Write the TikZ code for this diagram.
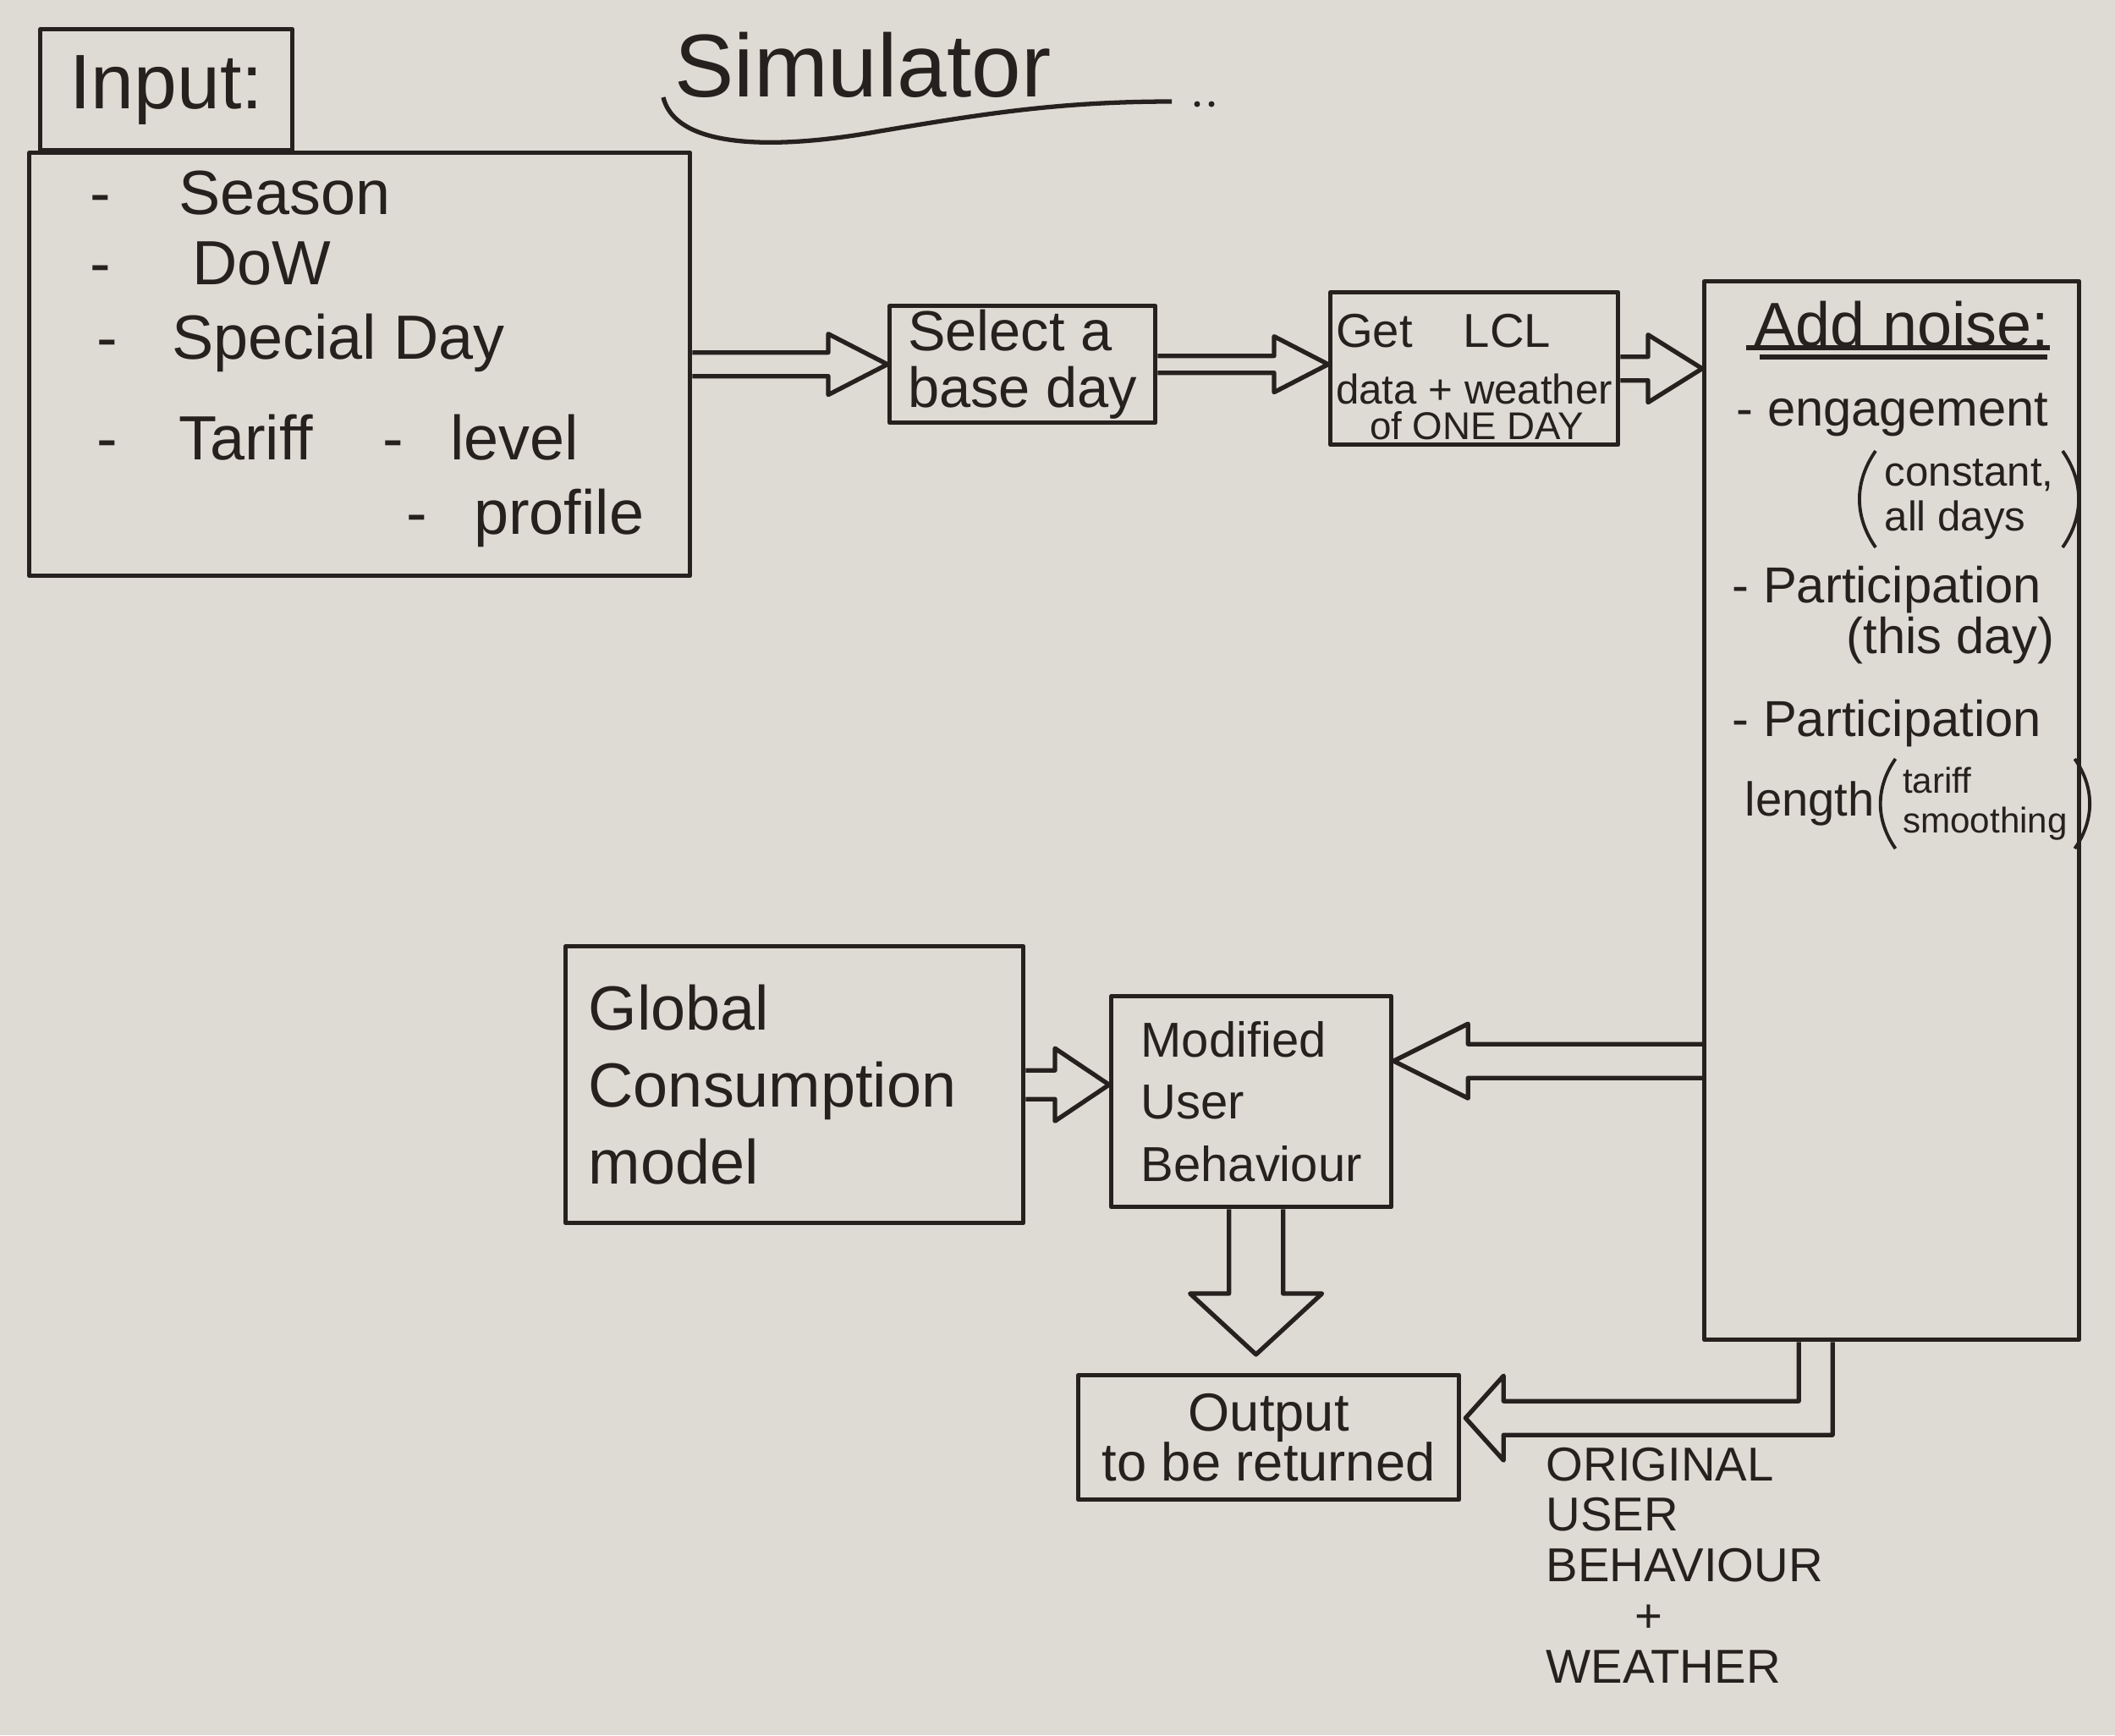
\documentclass[tikz,border=0pt]{standalone}
\usepackage{fontspec}
\setmainfont{Liberation Sans}
\usetikzlibrary{calc,positioning}
\definecolor{paper}{RGB}{221,219,211}
\definecolor{ink}{RGB}{38,33,30}

\begin{document}
\begin{tikzpicture}[color=ink, line width=1.5pt, line join=round,
    box/.style={draw, rectangle, inner sep=0pt, anchor=north west},
    item/.style={inner sep=0pt, anchor=west, text height=1.5ex, text depth=0.25ex,
        font=\fontsize{21}{25}\selectfont},
    note/.style={inner sep=0pt, font=\fontsize{17}{20}\selectfont},
    paren/.style={line width=1.1pt},
    fat/.style n args={3}{to path={
        ($(\tikztostart)!#1!90:(\tikztotarget)$)
        -- ($($(\tikztotarget)!#3!(\tikztostart)$)!#1!90:(\tikztotarget)$)
        -- ($($(\tikztotarget)!#3!(\tikztostart)$)!#2!90:(\tikztotarget)$)
        -- (\tikztotarget)
        -- ($($(\tikztotarget)!#3!(\tikztostart)$)!#2!270:(\tikztotarget)$)
        -- ($($(\tikztotarget)!#3!(\tikztostart)$)!#1!270:(\tikztotarget)$)
        -- ($(\tikztostart)!#1!270:(\tikztotarget)$)}}]

\fill[paper] (0,0) rectangle (25,-20.51);
\useasboundingbox (0,0) rectangle (25,-20.51);

% title
\node [font=\fontsize{30}{34}\selectfont] (title) at (10.2,-0.77) {Simulator};
\draw (7.84,-1.15) .. controls (8.0,-1.8) and (9.3,-1.75) .. (10.4,-1.55)
    .. controls (11.6,-1.35) and (12.5,-1.2) .. (13.85,-1.2);
\fill (14.15,-1.23) circle (0.035);
\fill (14.32,-1.23) circle (0.035);

% input
\node [box, minimum width=2.98cm, minimum height=1.43cm,
    font=\fontsize{26}{30}\selectfont] (intab) at (0.45,-0.32) {Input:};
\node [box, minimum width=7.81cm, minimum height=5.0cm] (inbox) at (0.32,-1.78) {};
\node [item] (season) at (1.04,-2.42) {-\hspace{0.8cm}Season};
\node [item] (dow) at (1.04,-3.25) {-\hspace{0.96cm}DoW};
\node [item] (spday) at (1.12,-4.13) {-\hspace{0.64cm}Special Day};
\node [item] (tariff) at (1.12,-5.32) {-\hspace{0.72cm}Tariff\hspace{0.83cm}-\hspace{0.55cm}level};
\node [item] (profile) at (4.78,-6.2) {-\hspace{0.55cm}profile};

% chain
\node [box, minimum width=3.14cm, minimum height=1.38cm, align=left,
    font=\fontsize{19}{19}\selectfont] (sel) at (10.49,-3.59) {Select a\\base day};
\node [box, minimum width=3.4cm, minimum height=1.8cm, align=left,
    font=\fontsize{14}{19}\selectfont] (lcl) at (15.70,-3.43)
    {\rule{0pt}{17pt}{\fontsize{16}{19}\selectfont Get\hspace{0.6cm}LCL}\\data + weather\\[-7pt]
     \hspace{0.4cm}{\fontsize{13}{13}\selectfont of ONE DAY}};
\node [box, minimum width=4.43cm, minimum height=12.51cm] (noise) at (20.12,-3.30) {};

% noise list
\node [font=\fontsize{21}{25}\selectfont, inner sep=0pt] (nhead) at (22.48,-3.83) {Add noise:};
\draw (20.64,-4.11) -- (24.23,-4.11);
\draw (20.8,-4.22) -- (24.2,-4.22);
\node [note, anchor=west] (eng) at (20.5,-4.9) {- engagement};
\node [note, anchor=east, align=left, inner xsep=0.08cm, inner ysep=2pt,
    font=\fontsize{14}{15}\selectfont] (engnote) at (24.38,-5.9) {constant,\\all days};
\draw [paren] (engnote.north west) to[bend right=35] (engnote.south west);
\draw [paren] (engnote.north east) to[bend left=35] (engnote.south east);
\node [note, anchor=west] (part1) at (20.45,-6.97) {- Participation};
\node [note, anchor=east] (daynote) at (24.31,-7.57) {(this day)};
\node [note, anchor=west] (part2) at (20.45,-8.55) {- Participation};
\node [note, anchor=west, font=\fontsize{16}{18}\selectfont] (lenword) at (20.6,-9.5) {length};
\node [note, right=0.22cm of lenword, align=left, inner xsep=0.06cm, inner ysep=2pt,
    font=\fontsize{12}{13.5}\selectfont] (lennote) {tariff\\smoothing};
\draw [paren] (lennote.north west) to[bend right=35] (lennote.south west);
\draw [paren] (lennote.north east) to[bend left=35] (lennote.south east);

% lower part
\node [box, minimum width=5.41cm, minimum height=3.27cm, align=left, text width=4.87cm,
    inner xsep=0.27cm, font=\fontsize{21}{26}\selectfont] (glob) at (6.66,-11.16)
    {Global\\Consumption\\model};
\node [box, minimum width=3.31cm, minimum height=2.49cm, align=left,
    font=\fontsize{16.5}{21}\selectfont] (mod) at (13.11,-11.75) {Modified\\User\\Behaviour};
\node [box, minimum width=4.5cm, minimum height=1.47cm, align=center,
    font=\fontsize{18}{17}\selectfont] (out) at (12.72,-16.23) {Output\\to be returned};
\node [anchor=west, inner sep=0pt, align=left, font=\fontsize{16}{17}\selectfont] (orig)
    at (18.25,-18.5) {ORIGINAL\\USER\\BEHAVIOUR\\\hspace*{1.05cm}+\\WEATHER};

% arrows
\coordinate (m1) at ($(mod.east)+(0,0.48)$);
\coordinate (o1) at ($(out.north)+(-0.15,0.22)$);
\coordinate (e1) at ($(noise.south)+(-0.9,0)$);
\coordinate (e2) at ($(out.east)+(0.05,0.23)$);
\draw [fat={0.14cm}{0.36cm}{0.7cm}] (inbox.east) to (sel.west);
\draw [fat={0.10cm}{0.33cm}{0.64cm}] (sel.east) to (sel.east -| lcl.west);
\draw [fat={0.14cm}{0.40cm}{0.64cm}] (lcl.east) to (lcl.east -| noise.west);
\draw [fat={0.20cm}{0.44cm}{0.88cm}] (m1 -| noise.west) to (m1);
\draw [fat={0.17cm}{0.43cm}{0.64cm}] (glob.east) to (glob.east -| mod.west);
\draw [fat={0.32cm}{0.78cm}{0.72cm}] (mod.south -| o1) to (o1);
\draw ($(e1)+(-0.2,0)$) |- ($(e2)+(0.45,0.2)$) -- ($(e2)+(0.45,0.5)$) -- (e2)
    -- ($(e2)+(0.45,-0.5)$) -- ($(e2)+(0.45,-0.2)$) -| ($(e1)+(0.2,0)$);
\end{tikzpicture}
\end{document}
